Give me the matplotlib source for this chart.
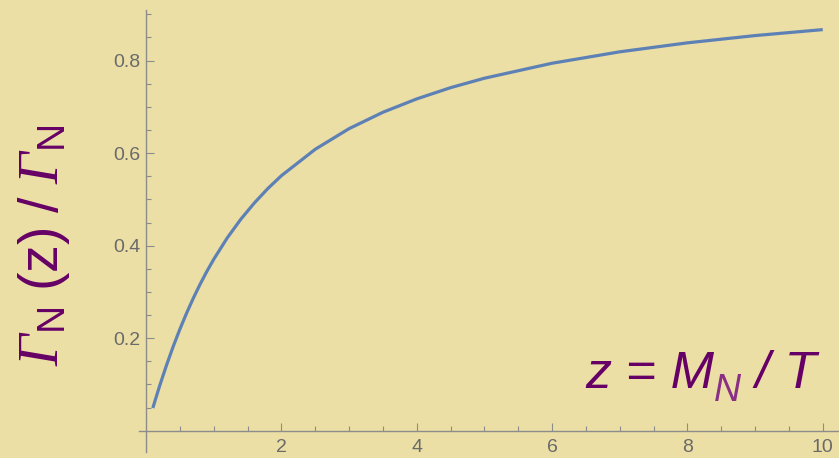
import matplotlib
matplotlib.use("Agg")
import matplotlib.pyplot as plt
from matplotlib.ticker import FixedLocator

# ratio of thermally averaged to rest-frame width, sampled along z = M_N / T
z_vals = [0.1, 0.2, 0.3, 0.4, 0.5, 0.6, 0.7, 0.8, 0.9, 1.0, 1.2, 1.4, 1.6,
          1.8, 2.0, 2.5, 3.0, 3.5, 4.0, 4.5, 5.0, 6.0, 7.0, 8.0, 9.0, 10.0]
ratio_vals = [0.049, 0.0965, 0.1405, 0.1815, 0.2194, 0.2544, 0.2869, 0.3169,
              0.3447, 0.3704, 0.4168, 0.4570, 0.4922, 0.5235, 0.5512, 0.6083,
              0.6529, 0.6883, 0.7172, 0.7415, 0.7619, 0.7943, 0.8190, 0.8384,
              0.8541, 0.8670]

x_major = [2, 4, 6, 8, 10]
y_major = [0.2, 0.4, 0.6, 0.8]
x_minor = [i * 0.5 for i in range(1, 21) if i % 4 != 0]
y_minor = [i * 0.05 for i in range(1, 19) if i % 4 != 0]

BG = "#EBDFA6"
AXIS_GRAY = "#8c8c8c"
LABEL_GRAY = "#6a6a6a"
PURPLE = "#660066"
PURPLE_SUB = "#8a2e86"
CURVE = "#5E81B5"

# Greek capitals go through the rm slot, so make it the serif italic
plt.rcParams["mathtext.fontset"] = "custom"
plt.rcParams["mathtext.rm"] = "Liberation Serif:italic"
plt.rcParams["mathtext.it"] = "Liberation Serif:italic"
plt.rcParams["mathtext.sf"] = "Liberation Sans"

fig = plt.figure(figsize=(8.39, 4.58), dpi=100, facecolor=BG)
ax = fig.add_axes([0, 0, 1, 1], facecolor=BG)

ax.plot(z_vals, ratio_vals, color=CURVE, linewidth=2.3, solid_capstyle="butt")

ax.set_xlim(-2.158, 10.24)
ax.set_ylim(-0.059, 0.931)

for side in ("top", "right"):
    ax.spines[side].set_visible(False)
ax.spines["left"].set_position(("data", 0))
ax.spines["bottom"].set_position(("data", 0))
ax.spines["left"].set_bounds(-0.046, 0.91)
ax.spines["bottom"].set_bounds(-0.1, 10.24)
for side in ("left", "bottom"):
    ax.spines[side].set_color(AXIS_GRAY)
    ax.spines[side].set_linewidth(1.0)

ax.xaxis.set_major_locator(FixedLocator(x_major))
ax.yaxis.set_major_locator(FixedLocator(y_major))
ax.xaxis.set_minor_locator(FixedLocator(x_minor))
ax.yaxis.set_minor_locator(FixedLocator(y_minor))
ax.set_xticklabels([str(v) for v in x_major])
ax.set_yticklabels([f"{v:.1f}" for v in y_major])

ax.tick_params(which="both", direction="in", color=AXIS_GRAY, width=0.8,
               labelcolor=LABEL_GRAY, labelsize=14)
ax.tick_params(which="major", length=6)
ax.tick_params(which="minor", length=3.5)
ax.tick_params(axis="y", pad=4)
ax.tick_params(axis="x", pad=6)
for lab in ax.get_xticklabels() + ax.get_yticklabels():
    lab.set_fontfamily("Liberation Sans")

# vertical label
fig.text(0.052, 0.465,
         r"$\Gamma_\mathsf{N}\ \mathsf{(z)\ /\ }\Gamma_\mathsf{N}$",
         rotation=90, ha="center", va="center", fontsize=40, color=PURPLE)

# in-plot x label with a lighter subscript
t1 = fig.text(585 / 839, 1 - 388 / 458, "z = M", fontsize=37.5, color=PURPLE,
              fontfamily="Liberation Sans", fontstyle="italic",
              ha="left", va="baseline")
t2 = ax.annotate("N", xy=(1, 0), xycoords=t1, xytext=(0, -7),
                 textcoords="offset points", fontsize=27, color=PURPLE_SUB,
                 fontfamily="Liberation Sans", fontstyle="italic",
                 ha="left", va="bottom")
ax.annotate(" / T", xy=(1, 0), xycoords=(t2, t1), fontsize=37.5, color=PURPLE,
            fontfamily="Liberation Sans", fontstyle="italic",
            ha="left", va="bottom")

fig.savefig("out.png", dpi=100, facecolor=BG)
